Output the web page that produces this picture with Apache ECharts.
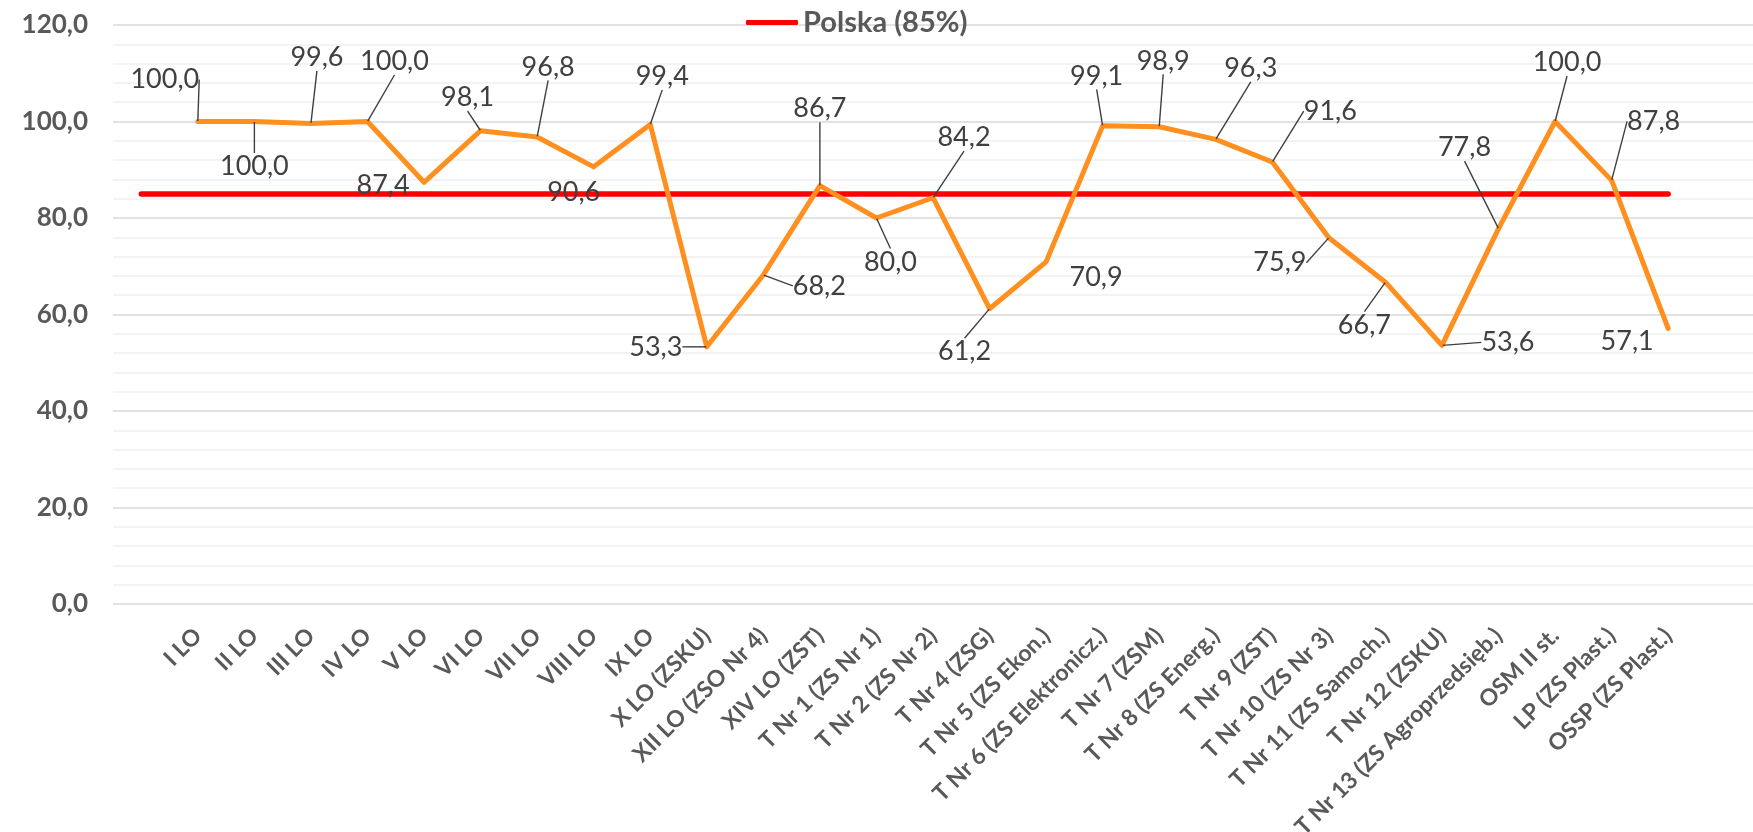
<!DOCTYPE html>
<html>
<head>
<meta charset="utf-8">
<script src="https://cdn.jsdelivr.net/npm/echarts@6/dist/echarts.min.js"></script>
<style>
  html, body { margin: 0; padding: 0; background: #fff; }
  #chart { width: 1753px; height: 832px; }
</style>
</head>
<body>
<div id="chart"></div>
<script>
// szkoły - kategorie osi X
const szkoly = [
  'I LO', 'II LO', 'III LO', 'IV LO', 'V LO', 'VI LO', 'VII LO', 'VIII LO', 'IX LO',
  'X LO (ZSKU)', 'XII LO (ZSO Nr 4)', 'XIV LO (ZST)',
  'T Nr 1 (ZS Nr 1)', 'T Nr 2 (ZS Nr 2)', 'T Nr 4 (ZSG)', 'T Nr 5 (ZS Ekon.)',
  'T Nr 6 (ZS Elektronicz.)', 'T Nr 7 (ZSM)', 'T Nr 8 (ZS Energ.)', 'T Nr 9 (ZST)',
  'T Nr 10 (ZS Nr 3)', 'T Nr 11 (ZS Samoch.)', 'T Nr 12 (ZSKU)',
  'T Nr 13 (ZS Agroprzedsięb.)', 'OSM II st.', 'LP (ZS Plast.)', 'OSSP (ZS Plast.)'
]

// wyniki szkół
const wyniki = [
  100.0, 100.0, 99.6, 100.0, 87.4, 98.1, 96.8, 90.6, 99.4,
  53.3, 68.2, 86.7,
  80.0, 84.2, 61.2, 70.9,
  99.1, 98.9, 96.3, 91.6,
  75.9, 66.7, 53.6,
  77.8, 100.0, 87.8, 57.1
]

// Polska (85%) - linia zaczyna się o jedną kategorię wcześniej
const polska = [
  85, 85, 85, 85, 85, 85, 85, 85, 85, 85, 85, 85, 85, 85,
  85, 85, 85, 85, 85, 85, 85, 85, 85, 85, 85, 85, 85, 85
]

// oś Y
const osY = { min: 0, max: 120, krok: 20 }

// przesunięcia etykiet danych [dx, dy] względem punktu
const przesuniecia = [
  [-33, -42], [0, 45], [6, -66], [27, -60], [-41, 3], [-13, -33], [11, -70], [-20, 25], [12, -48],
  [-51, 0], [56, 11], [0, -77],
  [14, 44], [31, -60], [-25, 43], [50, 15],
  [-6, -50], [4, -66], [35, -71], [58, -51],
  [-49, 25], [-21, 43], [66, -3],
  [-34, -81], [12, -59], [42, -59], [-41, 13]
]
// etykiety bez linii odniesienia
const bezLinii = [4, 7, 15, 26]

const fmt = v => Number(v).toFixed(1).replace('.', ',')

// kategorie z pustym miejscem na początku i na końcu osi
const kategorie = [''].concat(szkoly, [''])

const daneWyniki = [null].concat(wyniki.map((v, i) => ({
  value: v,
  labelLine: { show: bezLinii.indexOf(i) < 0 }
})), [null])

const danePolska = polska.concat([null])

const myCharts = echarts.init(document.getElementById('chart'))
myCharts.setOption({
  animation: false,
  textStyle: { fontFamily: 'Lato' },
  legend: {
    data: ['Polska (85%)'],
    left: 746,
    top: 8,
    padding: 0,
    icon: 'roundRect',
    itemWidth: 52,
    itemHeight: 5,
    itemGap: 6,
    textStyle: { fontSize: 29, fontWeight: 'bold', color: '#595959' }
  },
  grid: {
    left: 113,
    right: 0,
    top: 25,
    bottom: 228,
    outerBoundsMode: 'none'
  },
  xAxis: {
    type: 'category',
    data: kategorie,
    boundaryGap: true,
    axisLine: { show: false },
    axisTick: { show: false },
    axisLabel: {
      interval: 0,
      rotate: 45,
      margin: 28,
      fontSize: 23,
      fontWeight: 'bold',
      color: '#595959'
    }
  },
  yAxis: {
    type: 'value',
    min: osY.min,
    max: osY.max,
    interval: osY.krok,
    axisLine: { show: false },
    axisTick: { show: false },
    axisLabel: {
      formatter: fmt,
      margin: 25,
      fontSize: 26,
      fontWeight: 'bold',
      color: '#595959'
    },
    splitLine: { lineStyle: { color: '#d9d9d9', width: 1.5 } },
    minorTick: { show: false, splitNumber: 5 },
    minorSplitLine: { show: true, lineStyle: { color: '#f0f0f0', width: 1.5 } }
  },
  series: [
    {
      name: 'Polska (85%)',
      type: 'line',
      data: danePolska,
      symbol: 'none',
      itemStyle: { color: '#FF0000' },
      lineStyle: { color: '#FF0000', width: 5.5, cap: 'round' },
      z: 2
    },
    {
      name: 'Wynik',
      type: 'line',
      data: daneWyniki,
      symbol: 'circle',
      symbolSize: 1,
      itemStyle: { color: '#FF8F1F' },
      lineStyle: { color: '#FF8F1F', width: 5, cap: 'round', join: 'round' },
      z: 3,
      label: {
        show: true,
        position: 'inside',
        formatter: p => fmt(p.value),
        fontSize: 27,
        color: '#404040'
      },
      labelLine: {
        show: true,
        lineStyle: { color: '#404040', width: 1.4 }
      },
      labelLayout: p => {
        const o = przesuniecia[p.dataIndex - 1] || [0, 0]
        return { dx: o[0], dy: o[1] }
      }
    }
  ]
})
</script>
</body>
</html>
